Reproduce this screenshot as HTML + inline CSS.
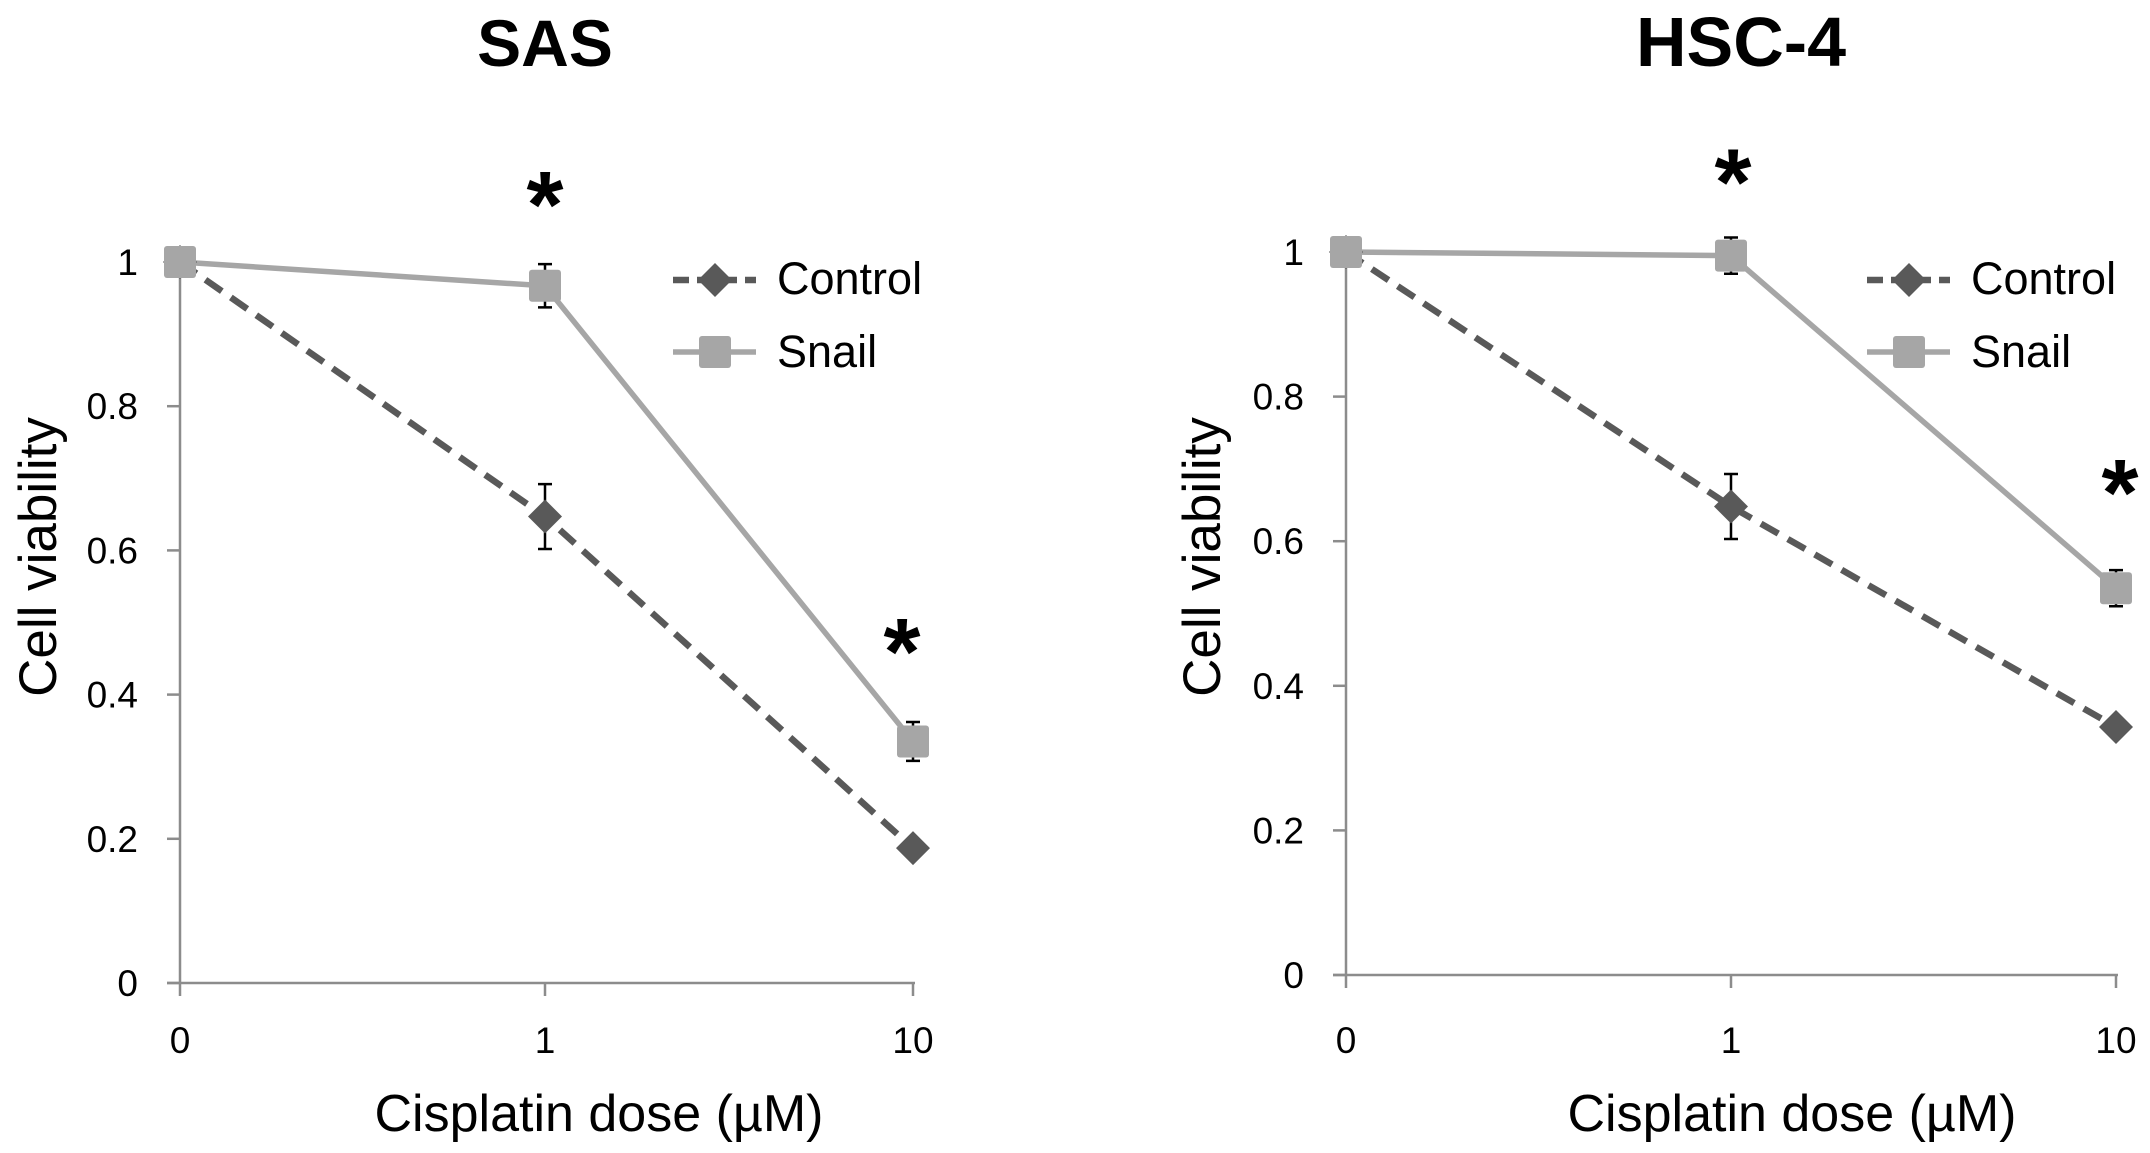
<!DOCTYPE html>
<html><head><meta charset="utf-8"><style>
html,body{margin:0;padding:0;background:#fff;}
svg{display:block;font-family:"Liberation Sans",sans-serif;}
</style></head><body>
<svg id="chart" width="2150" height="1153" viewBox="0 0 2150 1153" xmlns="http://www.w3.org/2000/svg"></svg>
<script>
const categories = ["0","1","10"];
const yTicks = [0,0.2,0.4,0.6,0.8,1];
const yTickLabels = ["0","0.2","0.4","0.6","0.8","1"];
const sasControl = [1,0.647,0.187];
const sasControlErr = [0,0.045,0.008];
const sasSnail = [1,0.967,0.335];
const sasSnailErr = [0,0.03,0.027];
const sasSig = [false,true,true];
const hscControl = [1,0.648,0.343];
const hscControlErr = [0,0.045,0.008];
const hscSnail = [1,0.995,0.535];
const hscSnailErr = [0,0.025,0.025];
const hscSig = [false,true,true];

const NS="http://www.w3.org/2000/svg";
const svg=document.getElementById('chart');
function mk(tag,attrs,parent){const e=document.createElementNS(NS,tag);for(const k in attrs)e.setAttribute(k,attrs[k]);(parent||svg).appendChild(e);return e;}

function panel(cfg){
  const g=mk('g',{});
  
  
  const xs=cfg.xs;
  const X=i=>xs[i];
  const Y=v=>cfg.y0+(cfg.y1-cfg.y0)*v;
  const t=mk('text',{x:cfg.titleX,y:66,'text-anchor':'middle','font-size':cfg.titleSize,'font-weight':'bold',fill:'#000'},g);
  t.textContent=cfg.title;
  
  
  const ya=mk('line',{x1:xs[0],x2:xs[0],y1:Y(1),y2:Y(0),stroke:'#8c8c8c','stroke-width':2.5},g);
  
  
  const xa=mk('line',{x1:xs[0]-13,x2:xs[2]+2,y1:Y(0),y2:Y(0),stroke:'#8c8c8c','stroke-width':2.5},g);
  
  
  yTicks.forEach((v,i)=>{
    mk('line',{x1:xs[0]-13,x2:xs[0],y1:Y(v),y2:Y(v),stroke:'#8c8c8c','stroke-width':2.5},g);
    const l=mk('text',{x:xs[0]-42,y:Y(v)+13,'text-anchor':'end','font-size':37,fill:'#000'},g);
    l.textContent=yTickLabels[i];
    
    
  });
  categories.forEach((c,i)=>{
    mk('line',{x1:X(i),x2:X(i),y1:Y(0),y2:Y(0)+13,stroke:'#8c8c8c','stroke-width':2.5},g);
    const l=mk('text',{x:X(i),y:1053,'text-anchor':'middle','font-size':37,fill:'#000'},g);
    l.textContent=c;
    
    
  });
  const xt=mk('text',{x:cfg.xTitleX,y:1131,'text-anchor':'middle','font-size':52,fill:'#000'},g);
  xt.textContent='Cisplatin dose (µM)';
  
  
  const yt=mk('text',{x:0,y:0,'text-anchor':'middle','font-size':53,fill:'#000',transform:`translate(${cfg.yTitleX+18},557) rotate(-90)`},g);
  yt.textContent='Cell viability';
  
  
  const cp=cfg.control.map((v,i)=>X(i)+','+Y(v)).join(' ');
  const sp=cfg.snail.map((v,i)=>X(i)+','+Y(v)).join(' ');
  const sl=mk('polyline',{points:sp,fill:'none',stroke:'#a6a6a6','stroke-width':5.5},g);
  
  
  const cl=mk('polyline',{points:cp,fill:'none',stroke:'#595959','stroke-width':6.5,'stroke-dasharray':'20 11'},g);
  
  
  function err(vals,errs,name){
    vals.forEach((v,i)=>{
      if(!errs[i])return;
      const e=mk('path',{d:`M${X(i)},${Y(v+errs[i])}V${Y(v-errs[i])}M${X(i)-7},${Y(v+errs[i])}h14M${X(i)-7},${Y(v-errs[i])}h14`,stroke:'#000','stroke-width':2.5,fill:'none'},g);
      
      
    });
  }
  err(cfg.control,cfg.controlErr,'control-error-bar');
  err(cfg.snail,cfg.snailErr,'snail-error-bar');
  cfg.control.forEach((v,i)=>{
    const d=mk('path',{d:`M${X(i)},${Y(v)-17}l17,17l-17,17l-17,-17z`,fill:'#595959'},g);
    
    
  });
  cfg.snail.forEach((v,i)=>{
    const s=mk('rect',{x:X(i)-16,y:Y(v)-16,width:32,height:32,rx:3,fill:'#a6a6a6'},g);
    
    
  });
  cfg.sig.forEach((s,i)=>{
    if(!s)return;
    const top=Math.max(cfg.snail[i]+cfg.snailErr[i],cfg.control[i]+cfg.controlErr[i]);
    const a=mk('text',{x:X(i)+cfg.astDx[i],y:Y(top)-cfg.astGap[i]+45,'text-anchor':'middle','font-size':95,'font-weight':'bold',fill:'#000'},g);
    a.textContent='*';
    
    
  });
  const lg=mk('g',{},g);
  
  
  const lx=cfg.legX;
  mk('line',{x1:lx,x2:lx+83,y1:280,y2:280,stroke:'#595959','stroke-width':6.5,'stroke-dasharray':'16 8'},lg);
  mk('path',{d:`M${lx+42},263l17,17l-17,17l-17,-17z`,fill:'#595959'},lg);
  const t1=mk('text',{x:lx+104,y:294,'font-size':45,fill:'#000'},lg);
  t1.textContent='Control';
  
  
  mk('line',{x1:lx,x2:lx+83,y1:352,y2:352,stroke:'#a6a6a6','stroke-width':5.5},lg);
  mk('rect',{x:lx+26,y:336,width:32,height:32,rx:3,fill:'#a6a6a6'},lg);
  const t2=mk('text',{x:lx+104,y:367,'font-size':45,fill:'#000'},lg);
  t2.textContent='Snail';
  
  
}
panel({name:'sas-panel',title:'SAS',titleSize:66,titleX:545,xs:[180,545,913],y0:983,y1:262,
  control:sasControl,controlErr:sasControlErr,snail:sasSnail,snailErr:sasSnailErr,sig:sasSig,
  xTitleX:599,yTitleX:38,legX:673,astGap:[0,72,83],astDx:[0,0,-11]});
panel({name:'hsc4-panel',title:'HSC-4',titleSize:70,titleX:1741,xs:[1346,1731,2116],y0:975,y1:252,
  control:hscControl,controlErr:hscControlErr,snail:hscSnail,snailErr:hscSnailErr,sig:hscSig,
  xTitleX:1792,yTitleX:1202,legX:1867,astGap:[0,68,90],astDx:[0,2,4]});
</script>
</body></html>
